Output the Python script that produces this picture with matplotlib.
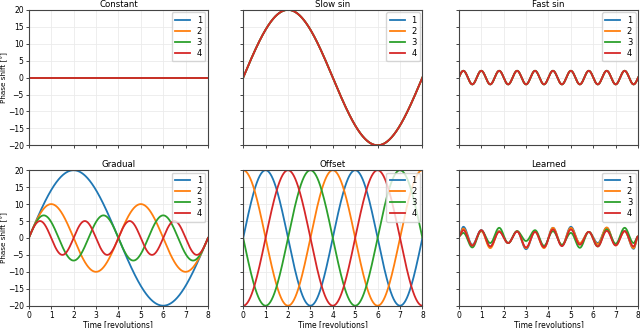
import numpy as np
import matplotlib.pyplot as plt

# time axis in revolutions
t = np.linspace(0, 8, 801)

titles = ['Constant', 'Slow sin', 'Fast sin', 'Gradual', 'Offset', 'Learned']
labels = ['1', '2', '3', '4']

# sinusoid parameters: amplitude [deg], period [rev], phase [rad]
slow_amp, slow_period = 20, 8
fast_amp, fast_period = 2, 0.8
gradual_amp = [20, 10, 6.67, 5]
gradual_period = [8, 4, 8 / 3, 2]
offset_amp, offset_period = 20, 4
offset_phase = [0, np.pi / 2, np.pi, 3 * np.pi / 2]

# learned curves: value at t=0, then alternating peak/trough values, then value at t=8
learned_times = [0.0, 0.2, 0.6, 1.0, 1.4, 1.8, 2.2, 2.6, 3.0, 3.4, 3.8, 4.2, 4.6,
                 5.0, 5.4, 5.8, 6.2, 6.6, 7.0, 7.4, 7.8, 8.0]
learned_1 = [0.5, 3.3, -2.0, 2.3, -2.6, 2.0, -1.5, 2.0, -3.3, 1.9, -2.8, 3.0, -2.3,
             3.3, -1.6, 1.8, -1.5, 3.0, -2.0, 2.1, -3.2, 0.3]
learned_2 = [0.5, 2.8, -2.2, 2.0, -3.0, 2.0, -1.5, 2.0, -3.0, 1.8, -3.0, 3.0, -2.2,
             3.0, -1.5, 1.8, -1.8, 3.1, -2.2, 2.0, -3.0, 0.3]
learned_3 = [0.5, 1.5, -2.8, 2.2, -1.5, 3.0, -1.5, 2.0, -0.9, 2.3, -2.3, 2.0, -2.0,
             1.5, -2.9, 1.8, -2.5, 2.5, -1.7, 3.0, -1.5, 0.5]
learned_4 = [0.5, 2.3, -2.3, 2.3, -2.5, 1.8, -1.5, 1.9, -2.8, 1.8, -2.7, 2.5, -2.4,
             2.5, -2.0, 1.8, -2.5, 2.1, -2.2, 2.0, -2.5, 0.5]
learned = [learned_1, learned_2, learned_3, learned_4]


def smooth_through(times, values, x):
    # cosine-shaped segments between consecutive extrema
    y = np.zeros_like(x)
    for i in range(len(times) - 1):
        t0, t1 = times[i], times[i + 1]
        v0, v1 = values[i], values[i + 1]
        m = (x >= t0) & (x <= t1)
        s = (x[m] - t0) / (t1 - t0)
        y[m] = (v0 + v1) / 2 + (v0 - v1) / 2 * np.cos(np.pi * s)
    return y


curves = {
    'Constant': [np.zeros_like(t) for _ in labels],
    'Slow sin': [slow_amp * np.sin(2 * np.pi * t / slow_period) for _ in labels],
    'Fast sin': [fast_amp * np.sin(2 * np.pi * t / fast_period) for _ in labels],
    'Gradual': [a * np.sin(2 * np.pi * t / p) for a, p in zip(gradual_amp, gradual_period)],
    'Offset': [offset_amp * np.sin(2 * np.pi * t / offset_period + ph) for ph in offset_phase],
    'Learned': [smooth_through(learned_times, v, t) for v in learned],
}

fig = plt.figure(figsize=(6.4, 3.28), dpi=100)
lefts = [0.045, 0.38, 0.717]
bottoms = [0.557, 0.068]
w, h = 0.28, 0.413

for k, title in enumerate(titles):
    row, col = divmod(k, 3)
    ax = fig.add_axes([lefts[col], bottoms[row], w, h])
    for y, lab in zip(curves[title], labels):
        ax.plot(t, y, lw=1.3, label=lab)
    ax.set_xlim(0, 8)
    ax.set_ylim(-20, 20)
    ax.set_xticks(range(9))
    ax.set_yticks(range(-20, 21, 5))
    ax.grid(True, color='#ebebeb', lw=0.6)
    for sp in ax.spines.values():
        sp.set_color('#444444')
        sp.set_linewidth(0.8)
    ax.tick_params(labelsize=5.5, length=2.5, width=0.7, pad=1.2, color='#444444')
    ax.set_title(title, fontsize=6.2, pad=2)
    if col == 0:
        ax.set_ylabel('Phase shift [°]', fontsize=5.2)
        ax.yaxis.set_label_coords(-0.115, 0.5)
    else:
        ax.set_yticklabels([])
    if row == 1:
        ax.set_xlabel('Time [revolutions]', fontsize=5.5, labelpad=0.5)
    else:
        ax.set_xticklabels([])
    ax.legend(loc='upper right', fontsize=6, handlelength=1.8, borderpad=0.4,
              labelspacing=0.25, handletextpad=0.8, borderaxespad=0.3)

plt.savefig('out.png', dpi=100)
